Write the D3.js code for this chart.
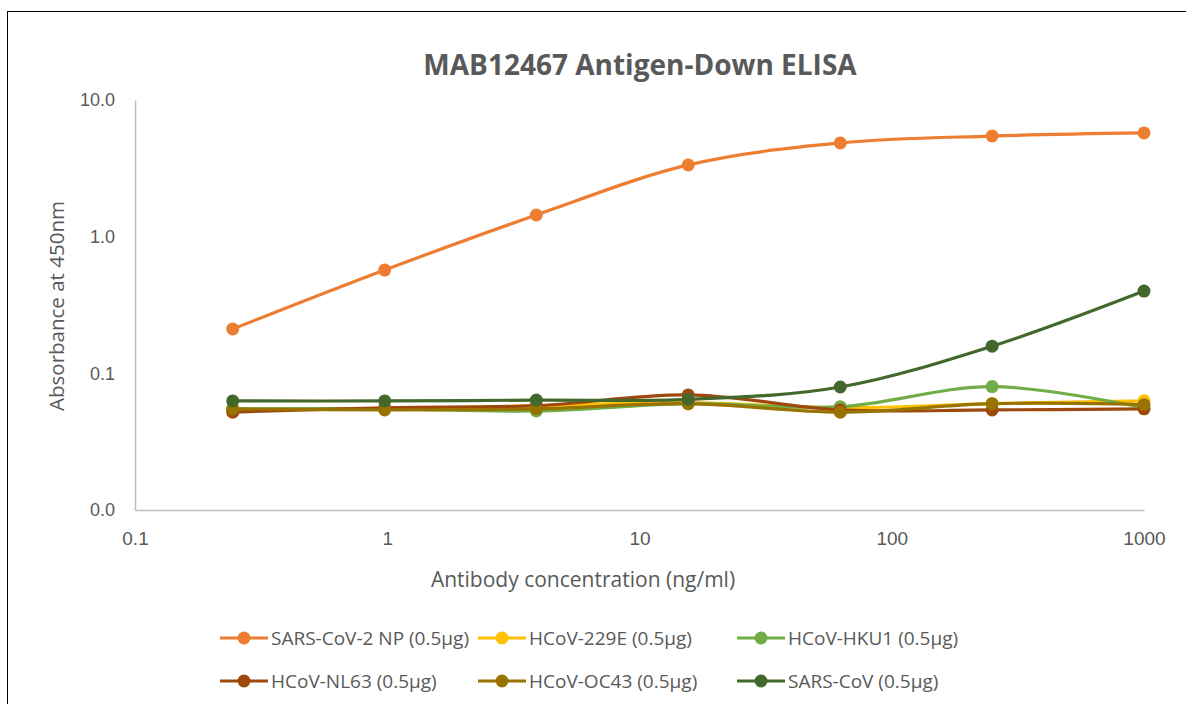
<!DOCTYPE html>
<html><head><meta charset="utf-8">
<script src="https://cdn.jsdelivr.net/npm/d3@7"></script>
<style>
html,body{margin:0;padding:0;background:#fff;}
svg{display:block;font-family:"Open Sans",sans-serif;}
</style></head>
<body><svg id="c" width="1186" height="704"></svg>
<script>
const concentrations = [0.244, 0.977, 3.9, 15.6, 62.5, 250, 1000];
const seriesNames = ["SARS-CoV-2 NP (0.5µg)","HCoV-229E (0.5µg)","HCoV-HKU1 (0.5µg)","HCoV-NL63 (0.5µg)","HCoV-OC43 (0.5µg)","SARS-CoV (0.5µg)"];
const sarsCov2 = [0.211, 0.57, 1.44, 3.35, 4.85, 5.45, 5.74];
const hcov229E = [0.054, 0.055, 0.058, 0.061, 0.056, 0.060, 0.063];
const hcovHKU1 = [0.055, 0.055, 0.053, 0.060, 0.057, 0.080, 0.056];
const hcovNL63 = [0.052, 0.056, 0.058, 0.0695, 0.054, 0.054, 0.055];
const hcovOC43 = [0.055, 0.054, 0.055, 0.060, 0.052, 0.060, 0.059];
const sarsCov  = [0.0628, 0.0628, 0.0637, 0.0645, 0.0794, 0.158, 0.40];
const colors = ["#ED7D31","#FFC000","#70AD47","#9E480E","#997300","#43682B"];
const xTicks = [0.1, 1, 10, 100, 1000];
const yTicks = [0.01, 0.1, 1, 10];
const yTickLabels = ["0.0","0.1","1.0","10.0"];
const xTickLabels = ["0.1","1","10","100","1000"];

const values = [sarsCov2, hcov229E, hcovHKU1, hcovNL63, hcovOC43, sarsCov];
const series = seriesNames.map((n,i)=>({name:n,color:colors[i],pts:concentrations.map((c,j)=>({x:c,y:values[i][j]}))}));

const svg = d3.select("#c");
const textCol = "#595959";

// outer frame (only top/left visible)
svg.append("rect").attr("x",7.5).attr("y",11.5).attr("width",1200).attr("height",800)
  .attr("fill","none").attr("stroke","#000").attr("stroke-width",1);

const x = d3.scaleLog().domain([0.1,1000]).range([135,1144]);
const y = d3.scaleLog().domain([0.01,10]).range([510,100]);

// axes
const xAxis = d3.axisBottom(x).tickValues(xTicks).tickSize(0).tickFormat((d,i)=>xTickLabels[i]);
const gx = svg.append("g").attr("transform","translate(0,510)").call(xAxis);
gx.select(".domain").attr("stroke","#BFBFBF").attr("stroke-width",1.5);
gx.selectAll("text").attr("fill",textCol).attr("font-size",19).attr("y",35).attr("dy",0);

const yAxis = d3.axisLeft(y).tickValues(yTicks).tickSize(0).tickFormat((d,i)=>yTickLabels[i]);
const gy = svg.append("g").attr("transform","translate(135,0)").call(yAxis);
gy.select(".domain").attr("stroke","#BFBFBF").attr("stroke-width",1.5);
gy.selectAll("text").attr("fill",textCol).attr("font-size",18).attr("x",-20);

// titles
svg.append("text").attr("x",640).attr("y",75).attr("text-anchor","middle")
  .attr("font-size",28).attr("font-weight","bold").attr("fill",textCol)
  .text("MAB12467 Antigen-Down ELISA");
svg.append("text").attr("x",583).attr("y",587).attr("text-anchor","middle")
  .attr("font-size",21).attr("fill",textCol).text("Antibody concentration (ng/ml)");
svg.append("text").attr("transform","translate(64,306) rotate(-90)").attr("text-anchor","middle")
  .attr("font-size",20.5).attr("fill",textCol).text("Absorbance at 450nm");

// lines
const line = d3.line().x(d=>x(d.x)).y(d=>y(d.y)).curve(d3.curveCatmullRom.alpha(0));
const g = svg.append("g");
series.forEach(s=>{
  g.append("path").datum(s.pts).attr("d",line).attr("fill","none")
    .attr("stroke",s.color).attr("stroke-width",3.2).attr("stroke-linecap","round");
  g.selectAll(null).data(s.pts).enter().append("circle")
    .attr("cx",d=>x(d.x)).attr("cy",d=>y(d.y)).attr("r",6.5).attr("fill",s.color);
});

// legend
const legX = [220, 478, 737];
const legY = [638, 681];
series.forEach((s,i)=>{
  const lx = legX[i%3], ly = legY[Math.floor(i/3)];
  const lg = svg.append("g").attr("transform",`translate(${lx},${ly})`);
  lg.append("line").attr("x1",0).attr("x2",48).attr("y1",0).attr("y2",0)
    .attr("stroke",s.color).attr("stroke-width",3.2);
  lg.append("circle").attr("cx",24).attr("cy",0).attr("r",6.5).attr("fill",s.color);
  lg.append("text").attr("x",51).attr("y",0).attr("dy","0.35em").attr("font-size",19)
    .attr("fill",textCol).text(s.name);
});
</script></body></html>
